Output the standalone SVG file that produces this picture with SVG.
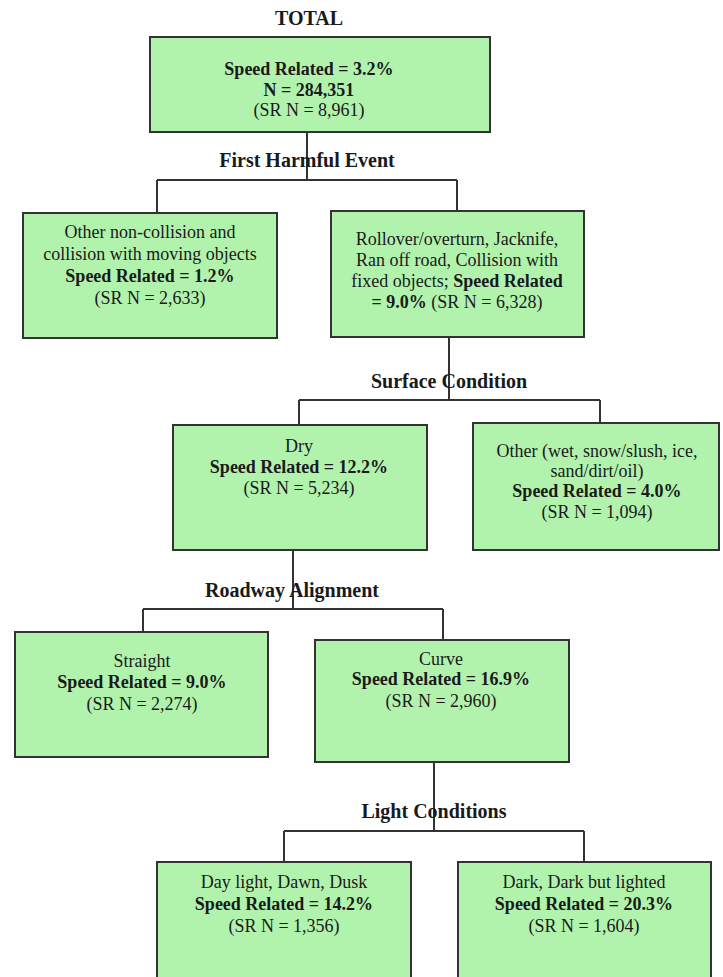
<svg xmlns="http://www.w3.org/2000/svg" width="723" height="977" viewBox="0 0 723 977">
<style>
  .box { fill: #b1f3ad; stroke: #333333; stroke-width: 2; }
  .con { fill: none; stroke: #333333; stroke-width: 2; }
  text { font-family: "Liberation Serif", "Times New Roman", serif; fill: #1a1a1a; text-anchor: middle; }
  .t { font-size: 18px; }
  .b { font-weight: bold; }
  .h { font-size: 20px; font-weight: bold; }
</style>
<rect width="723" height="977" fill="#ffffff"/>
<g id="connectors">
  <path class="con" d="M307 132 V180 M157 180 H457 M157 180 V213 M457 180 V211"/>
  <path class="con" d="M449 337 V400 M299 400 H600 M299 400 V425 M600 400 V423"/>
  <path class="con" d="M293 550 V609 M143 609 H443 M143 609 V632 M443 609 V640"/>
  <path class="con" d="M434 762 V831 M284 831 H584 M284 831 V862 M584 831 V862"/>
</g>
<g id="labels">
  <text class="h" x="309" y="25">TOTAL</text>
  <text class="h" x="307" y="167">First Harmful Event</text>
  <text class="h" x="449" y="388">Surface Condition</text>
  <text class="h" x="292" y="597">Roadway Alignment</text>
  <text class="h" x="434" y="818">Light Conditions</text>
</g>
<g id="total">
  <rect class="box" x="150" y="37" width="340" height="95"/>
  <text class="t b" x="309" y="75">Speed Related = 3.2%</text>
  <text class="t b" x="309" y="96">N = 284,351</text>
  <text class="t" x="309" y="116">(SR N = 8,961)</text>
</g>
<g id="other-collision">
  <rect class="box" x="23" y="213" width="254" height="125"/>
  <text class="t" x="150" y="238">Other non-collision and</text>
  <text class="t" x="150" y="260">collision with moving objects</text>
  <text class="t b" x="150" y="282">Speed Related = 1.2%</text>
  <text class="t" x="150" y="304">(SR N = 2,633)</text>
</g>
<g id="rollover">
  <rect class="box" x="331" y="211" width="253" height="126"/>
  <text class="t" x="457" y="245">Rollover/overturn, Jacknife,</text>
  <text class="t" x="457" y="266">Ran off road, Collision with</text>
  <text class="t" x="457" y="287">fixed objects; <tspan class="b">Speed Related</tspan></text>
  <text class="t" x="457" y="308"><tspan class="b">= 9.0%</tspan> (SR N = 6,328)</text>
</g>
<g id="dry">
  <rect class="box" x="173" y="425" width="254" height="125"/>
  <text class="t" x="299" y="452">Dry</text>
  <text class="t b" x="299" y="473">Speed Related = 12.2%</text>
  <text class="t" x="299" y="494">(SR N = 5,234)</text>
</g>
<g id="other-surface">
  <rect class="box" x="473" y="423" width="246" height="127"/>
  <text class="t" x="597" y="457">Other (wet, snow/slush, ice,</text>
  <text class="t" x="597" y="477">sand/dirt/oil)</text>
  <text class="t b" x="597" y="497">Speed Related = 4.0%</text>
  <text class="t" x="597" y="518">(SR N = 1,094)</text>
</g>
<g id="straight">
  <rect class="box" x="15" y="632" width="253" height="125"/>
  <text class="t" x="142" y="667">Straight</text>
  <text class="t b" x="142" y="688">Speed Related = 9.0%</text>
  <text class="t" x="142" y="710">(SR N = 2,274)</text>
</g>
<g id="curve">
  <rect class="box" x="315" y="640" width="254" height="122"/>
  <text class="t" x="441" y="665">Curve</text>
  <text class="t b" x="441" y="685">Speed Related = 16.9%</text>
  <text class="t" x="441" y="707">(SR N = 2,960)</text>
</g>
<g id="daylight">
  <rect class="box" x="157" y="862" width="254" height="130"/>
  <text class="t" x="284" y="888">Day light, Dawn, Dusk</text>
  <text class="t b" x="284" y="910">Speed Related = 14.2%</text>
  <text class="t" x="284" y="932">(SR N = 1,356)</text>
</g>
<g id="dark">
  <rect class="box" x="458" y="862" width="253" height="130"/>
  <text class="t" x="584" y="888">Dark, Dark but lighted</text>
  <text class="t b" x="584" y="910">Speed Related = 20.3%</text>
  <text class="t" x="584" y="932">(SR N = 1,604)</text>
</g>
</svg>
